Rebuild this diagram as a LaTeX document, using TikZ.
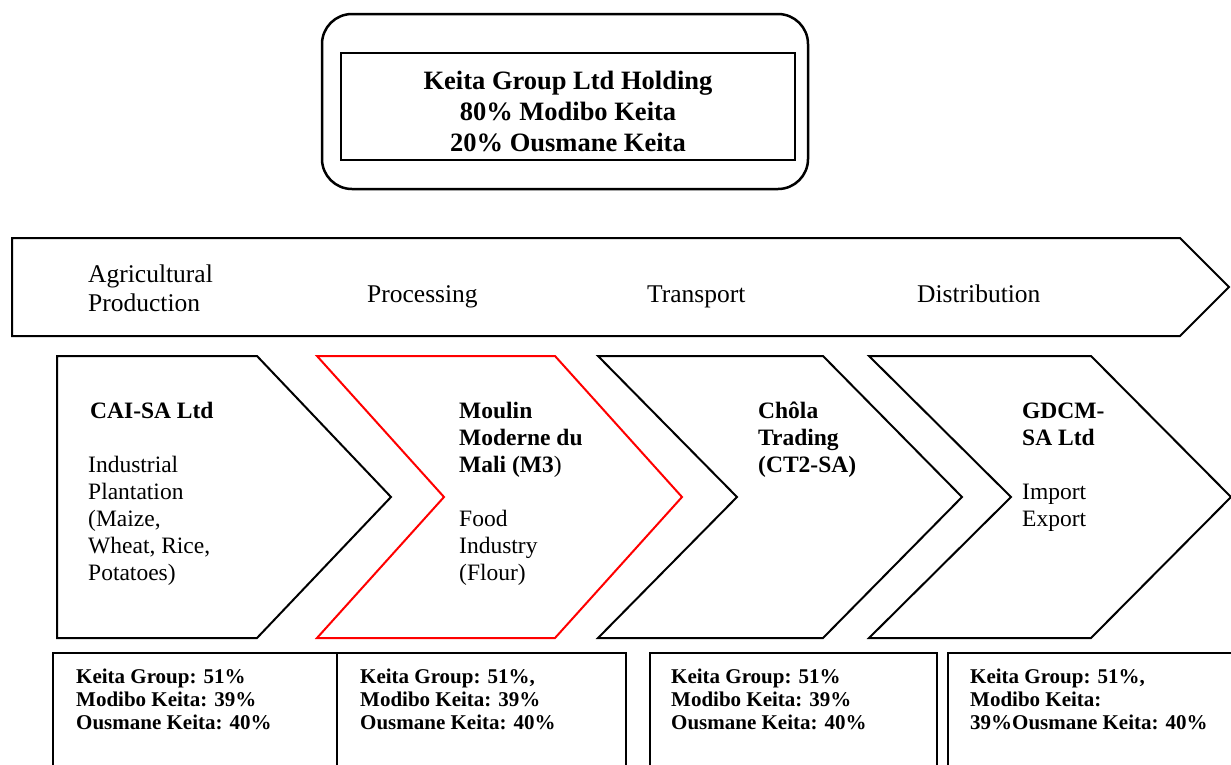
\documentclass[tikz,border=0pt]{standalone}
\usepackage{fontspec}
\setmainfont{Liberation Serif}
\begin{document}
\begin{tikzpicture}[x=1pt,y=-1pt,
  shape line/.style={draw=black,line width=2pt,line join=miter},
  redline/.style={draw=red,line width=2pt,line join=miter},
  ownbox/.style={draw=black,line width=1.5pt},
  chevtext/.style={anchor=north west,inner sep=0pt,align=left,font=\fontsize{23.5}{27}\selectfont},
  bartext/.style={inner sep=0pt,align=left,font=\fontsize{25.5}{29}\selectfont},
  owntext/.style={anchor=north west,inner sep=0pt,align=left,font=\fontsize{21}{23}\selectfont\bfseries},
  holdtext/.style={anchor=north,inner sep=0pt,align=center,font=\fontsize{26.5}{31}\selectfont\bfseries}]
\useasboundingbox[fill=white] (0,0) rectangle (1231,764);

% holding box
\draw[line width=2.5pt,rounded corners=30pt] (322,14) rectangle (808,189);
\draw[line width=1.5pt] (341,53) rectangle (795,160);
\node[holdtext] (hold) at (568,67.3) {\strut Keita Group Ltd Holding\\80\% Modibo Keita\\20\% Ousmane Keita};

% big value-chain arrow
\draw[shape line] (12,238) -- (1180,238) -- (1229,287) -- (1180,336) -- (12,336) -- cycle;
\node[bartext,anchor=north west] (agri) at (88,261.7) {\strut Agricultural\\Production};
\node[bartext,anchor=base west] (proc) at (367,302) {Processing};
\node[bartext,anchor=base west] (trans) at (647,302) {Transport};
\node[bartext,anchor=base west] (dist) at (917,302) {Distribution};

% chevrons
\draw[shape line] (57,356) -- (257,356) -- (391,497) -- (257,638) -- (57,638) -- cycle;
\draw[redline] (317,356) -- (555,356) -- (682,497) -- (555,638) -- (317,638) -- (444,497) -- cycle;
\draw[shape line] (598,356) -- (823,356) -- (962,497) -- (823,638) -- (598,638) -- (737,497) -- cycle;
\draw[shape line] (869,356) -- (1091,356) -- (1231,497) -- (1091,638) -- (869,638) -- (1011,497) -- cycle;

\node[chevtext] (cai) at (88,399.1) {\strut\hspace{2pt}\textbf{CAI-SA Ltd}\\[27pt]Industrial\\Plantation\\(Maize,\\Wheat, Rice,\\Potatoes)};
\node[chevtext] (m3) at (459,399.1) {\strut\textbf{Moulin}\\\textbf{Moderne du}\\\textbf{Mali (M3})\\[27pt]Food\\Industry\\(Flour)};
\node[chevtext] (ct2) at (758,399.1) {\strut\textbf{Chôla}\\\textbf{Trading}\\\textbf{(CT2-SA)}};
\node[chevtext] (gdcm) at (1022,399.1) {\strut\textbf{GDCM-}\\\textbf{SA Ltd}\\[27pt]Import\\Export};

% ownership boxes (open at the bottom edge)
\draw[ownbox] (53,780) -- (53,653) -- (337,653) -- (337,780);
\draw[ownbox] (337,653) -- (626,653) -- (626,780);
\draw[ownbox] (650,780) -- (650,653) -- (937,653) -- (937,780);
\draw[ownbox] (948,780) -- (948,653) -- (1245,653) -- (1245,780);

\node[owntext] (o1) at (76,666.9) {\strut Keita Group: 51\%\\Modibo Keita: 39\%\\Ousmane Keita: 40\%};
\node[owntext] (o2) at (360,666.9) {\strut Keita Group: 51\%,\\Modibo Keita: 39\%\\Ousmane Keita: 40\%};
\node[owntext] (o3) at (671,666.9) {\strut Keita Group: 51\%\\Modibo Keita: 39\%\\Ousmane Keita: 40\%};
\node[owntext] (o4) at (970,666.9) {\strut Keita Group: 51\%,\\Modibo Keita:\\39\%Ousmane Keita: 40\%};
\end{tikzpicture}
\end{document}
